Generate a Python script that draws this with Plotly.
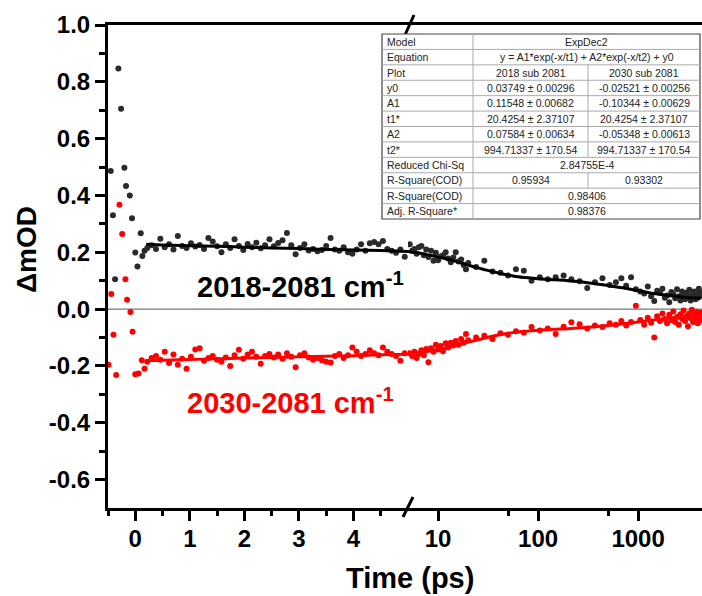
import math
import plotly.graph_objects as go

# ---------------- data ----------------
# early (coherent artefact) points, linear time axis (ps)
black_t_early = [-0.45, -0.41, -0.37, -0.31, -0.26, -0.20, -0.17, -0.10, -0.06, 0.00, 0.04, 0.10, 0.13, 0.17]
black_y_early = [0.486, 0.330, 0.105, 0.847, 0.705, 0.498, 0.433, 0.400, 0.320, 0.199, 0.150, 0.267, 0.187, 0.205]
red_t_early = [-0.49, -0.44, -0.40, -0.35, -0.29, -0.24, -0.18, -0.15, -0.09, -0.05, 0.00, 0.06, 0.12, 0.17]
red_y_early = [-0.196, 0.053, -0.090, -0.232, 0.367, 0.264, 0.105, 0.033, -0.010, -0.080, -0.229, -0.227, -0.180, -0.210]

# plateau points on the linear part (ps)
t_lin = [0.22, 0.30, 0.38, 0.46, 0.54, 0.62, 0.70, 0.78, 0.86, 0.94,
         1.02, 1.10, 1.18, 1.26, 1.34, 1.42, 1.50, 1.58, 1.66, 1.74,
         1.82, 1.90, 1.98, 2.06, 2.14, 2.22, 2.30, 2.38, 2.46, 2.54,
         2.62, 2.70, 2.78, 2.86, 2.94, 3.02, 3.10, 3.18, 3.26, 3.34,
         3.42, 3.50, 3.58, 3.66, 3.74, 3.82, 3.90, 3.98, 4.06, 4.14,
         4.22, 4.30, 4.38, 4.46, 4.54, 4.62, 4.70, 4.78, 4.86, 4.94]
black_lin = [0.215, 0.225, 0.212, 0.248, 0.218, 0.228, 0.210, 0.257, 0.222, 0.215,
             0.232, 0.220, 0.226, 0.212, 0.250, 0.238, 0.221, 0.200, 0.228, 0.215,
             0.246, 0.222, 0.208, 0.229, 0.218, 0.234, 0.214, 0.225, 0.246, 0.221,
             0.233, 0.242, 0.268, 0.225, 0.193, 0.215, 0.228, 0.206, 0.212, 0.204,
             0.208, 0.222, 0.250, 0.210, 0.205, 0.218, 0.200, 0.195, 0.210, 0.228,
             0.205, 0.232, 0.236, 0.228, 0.240, 0.212, 0.205, 0.198, 0.210, 0.184]
red_lin = [-0.185, -0.172, -0.165, -0.178, -0.150, -0.190, -0.160, -0.196, -0.175, -0.210,
           -0.168, -0.142, -0.138, -0.182, -0.172, -0.165, -0.178, -0.185, -0.170, -0.200,
           -0.162, -0.143, -0.175, -0.160, -0.150, -0.168, -0.192, -0.165, -0.158, -0.170,
           -0.160, -0.175, -0.155, -0.168, -0.205, -0.162, -0.155, -0.170, -0.178, -0.172,
           -0.180, -0.185, -0.188, -0.165, -0.158, -0.172, -0.162, -0.135, -0.150, -0.165,
           -0.158, -0.145, -0.155, -0.162, -0.135, -0.150, -0.158, -0.165, -0.182, -0.155]

# points on the log part (ps)
t_log = [5.2, 5.5, 5.8, 6.1, 6.4, 6.8, 7.2, 7.6, 8.0, 8.5, 9.0, 9.5, 10, 10.6, 11.2, 11.9, 12.6,
         13.4, 14.2, 15, 16, 17, 18, 19, 20,
         24, 29, 35, 42, 50, 60, 72, 86, 104, 125, 150,
         180, 215, 260, 310, 370, 440, 520, 600, 680, 760,
         850, 950, 1050, 1150, 1250, 1350, 1450, 1550, 1650, 1750, 1850, 1950, 2050, 2150,
         2250, 2350, 2450, 2550, 2650, 2750, 2850, 2950, 3050, 3150, 3250, 3350, 3450, 3550,
         3650, 3750, 3850, 3950, 4050, 4150, 4250]
black_log = [0.228, 0.205, 0.212, 0.195, 0.218, 0.222, 0.190, 0.210, 0.183, 0.205,
             0.170, 0.198, 0.172, 0.185, 0.190, 0.200, 0.178, 0.165, 0.182, 0.200,
             0.168, 0.175, 0.155, 0.140, 0.162,
             0.148, 0.170, 0.132, 0.128, 0.118, 0.140, 0.135, 0.100, 0.112, 0.105, 0.112,
             0.118, 0.105, 0.098, 0.074, 0.095, 0.109, 0.085, 0.095, 0.109, 0.082,
             0.112, 0.070, 0.062, 0.055, 0.080, 0.045, 0.029, 0.065, 0.058, 0.072,
             0.040, 0.048, 0.024, 0.060, 0.052, 0.038, 0.070, 0.045, 0.030, 0.062,
             0.050, 0.035, 0.058, 0.042, 0.068, 0.030, 0.050, 0.044, 0.062, 0.035,
             0.055, 0.040, 0.072, 0.048, 0.058]
red_log = [-0.155, -0.165, -0.150, -0.172, -0.158, -0.145, -0.162, -0.140, -0.187, -0.138,
           -0.150, -0.125, -0.142, -0.130, -0.148, -0.120, -0.135, -0.118, -0.128, -0.112,
           -0.125, -0.105, -0.118, -0.088, -0.110,
           -0.100, -0.094, -0.105, -0.085, -0.090, -0.078, -0.083, -0.063, -0.075, -0.068, -0.088,
           -0.062, -0.046, -0.053, -0.068, -0.058, -0.063, -0.050, -0.055, -0.042, -0.058,
           -0.045, 0.012, -0.038, -0.055, -0.030, -0.048, -0.100, -0.025, -0.042, -0.015,
           -0.035, -0.050, -0.020, -0.038, -0.008, -0.045, -0.028, -0.055, -0.018, -0.035,
           -0.005, -0.042, -0.025, -0.060, -0.015, -0.032, -0.002, -0.045, -0.020, -0.038,
           -0.010, -0.050, -0.025, -0.040, -0.012]

# fitted curves (ExpDec2)
fit_t_lin = [0.2, 0.5, 1, 1.5, 2, 2.5, 3, 3.5, 4, 4.5, 5]
black_fit_lin = [0.228, 0.226, 0.223, 0.221, 0.218, 0.215, 0.213, 0.210, 0.208, 0.206, 0.203]
red_fit_lin = [-0.181, -0.180, -0.177, -0.175, -0.172, -0.170, -0.168, -0.166, -0.164, -0.161, -0.159]
fit_t_log = [5, 6, 7, 8, 10, 12, 15, 20, 25, 30, 40, 50, 60, 80, 100, 150, 200, 300, 500, 700,
             1000, 1500, 2000, 3000, 4300]
black_fit_log = [0.203, 0.199, 0.195, 0.191, 0.183, 0.177, 0.168, 0.155, 0.145, 0.138, 0.127,
                 0.120, 0.115, 0.110, 0.107, 0.103, 0.100, 0.094, 0.083, 0.075, 0.065, 0.054,
                 0.048, 0.041, 0.039]
red_fit_log = [-0.159, -0.155, -0.152, -0.148, -0.142, -0.136, -0.128, -0.116, -0.108, -0.101,
               -0.091, -0.085, -0.081, -0.077, -0.074, -0.071, -0.069, -0.065, -0.058, -0.052,
               -0.045, -0.037, -0.032, -0.028, -0.026]

# tick labels
x_lin_ticks = [0, 1, 2, 3, 4]
x_lin_minor = [-0.5, 0.5, 1.5, 2.5, 3.5, 4.5]
x_log_ticks = [10, 100, 1000]
x_log_text = ["10", "100", "1000"]
x_log_minor = [50, 500]
y_tick_vals = [-0.6, -0.4, -0.2, 0.0, 0.2, 0.4, 0.6, 0.8, 1.0]
y_tick_text = ["-0.6", "-0.4", "-0.2", "0.0", "0.2", "0.4", "0.6", "0.8", "1.0"]
y_minor = [-0.5, -0.3, -0.1, 0.1, 0.3, 0.5, 0.7, 0.9]

# fit result table
table_labels = ["Model", "Equation", "Plot", "y0", "A1", "t1*", "A2", "t2*",
                "Reduced Chi-Sq", "R-Square(COD)", "R-Square(COD)", "Adj. R-Square*"]
table_col1 = ["ExpDec2", "y = A1*exp(-x/t1) + A2*exp(-x/t2) + y0", "2018 sub 2081",
              "0.03749 ± 0.00296", "0.11548 ± 0.00682", "20.4254 ± 2.37107",
              "0.07584 ± 0.00634", "994.71337 ± 170.54", "2.84755E-4", "0.95934",
              "0.98406", "0.98376"]
table_col2 = [None, None, "2030 sub 2081", "-0.02521 ± 0.00256", "-0.10344 ± 0.00629",
              "20.4254 ± 2.37107", "-0.05348 ± 0.00613", "994.71337 ± 170.54", None,
              "0.93302", None, None]

label_black = "2018-2081 cm<sup>-1</sup>"
label_red = "2030-2081 cm<sup>-1</sup>"

# ---------------- layout geometry ----------------
W, H = 702, 596
L, R, T, B = 108, 0, 25, 88
PW, PH = W - L - R, H - T - B
BREAK = 408


def px(X):
    return (X - L) / PW


def py(Y):
    return (H - B - Y) / PH


FONT = "Liberation Sans, Arial, sans-serif"
BLACK_DOT = "#2a2a2a"
RED = "#ff0000"

fig = go.Figure()

# scatter points
fig.add_trace(go.Scatter(x=black_t_early + t_lin, y=black_y_early + black_lin, mode="markers",
                         marker=dict(size=6, color=BLACK_DOT), xaxis="x", yaxis="y"))
fig.add_trace(go.Scatter(x=red_t_early + t_lin, y=red_y_early + red_lin, mode="markers",
                         marker=dict(size=6, color=RED), xaxis="x", yaxis="y"))
fig.add_trace(go.Scatter(x=t_log, y=black_log, mode="markers",
                         marker=dict(size=6, color=BLACK_DOT), xaxis="x2", yaxis="y"))
fig.add_trace(go.Scatter(x=t_log, y=red_log, mode="markers",
                         marker=dict(size=6, color=RED), xaxis="x2", yaxis="y"))
# fit lines
for xs, ys, col, ax in [(fit_t_lin, black_fit_lin, "black", "x"),
                        (fit_t_lin, red_fit_lin, RED, "x"),
                        (fit_t_log, black_fit_log, "black", "x2"),
                        (fit_t_log, red_fit_log, RED, "x2")]:
    fig.add_trace(go.Scatter(x=xs, y=ys, mode="lines", line=dict(color=col, width=3, shape="spline"),
                             xaxis=ax, yaxis="y"))

tickfont = dict(family=FONT, size=24, color="black", weight="bold")
common = dict(ticks="outside", ticklen=10, tickwidth=3, tickcolor="black", showline=True,
              linewidth=3, linecolor="black", showgrid=False, zeroline=False, tickfont=tickfont)
d = px(BREAK)

fig.update_layout(
    width=W, height=H, margin=dict(l=L, r=R, t=T, b=B, autoexpand=False),
    paper_bgcolor="white", plot_bgcolor="white", showlegend=False,
    xaxis=dict(domain=[0, d], range=[-0.5, 5.0], tickmode="array", tickvals=x_lin_ticks,
               mirror=True, anchor="y", ticklabelstandoff=-3, automargin=False,
               minor=dict(tickmode="array", tickvals=x_lin_minor, ticks="outside", ticklen=5,
                          tickwidth=3, tickcolor="black", showgrid=False), **common),
    xaxis2=dict(domain=[d, 1], type="log", range=[math.log10(5), math.log10(5) + 2.94],
                tickmode="array", tickvals=x_log_ticks, ticktext=x_log_text, mirror=True,
                anchor="y", ticklabelstandoff=-3, automargin=False,
                minor=dict(tickmode="array", tickvals=x_log_minor, ticks="outside", ticklen=5,
                           tickwidth=3, tickcolor="black", showgrid=False), **common),
    yaxis=dict(domain=[0, 1], range=[-0.7, 1.0], tickmode="array", tickvals=y_tick_vals,
               ticktext=y_tick_text, anchor="x", ticklabelstandoff=0, automargin=False,
               minor=dict(tickmode="array", tickvals=y_minor, ticks="outside", ticklen=6,
                          tickwidth=3, tickcolor="black", showgrid=False), **common),
)

shapes = []
annotations = []

# zero line
shapes.append(dict(type="line", xref="paper", yref="y", x0=0, x1=1, y0=0, y1=0,
                   line=dict(color="#555555", width=1), layer="below"))
# axis break marks
shapes.append(dict(type="line", xref="paper", yref="paper", x0=px(403), y0=py(517),
                   x1=px(413), y1=py(497), line=dict(color="black", width=3)))
shapes.append(dict(type="line", xref="paper", yref="paper", x0=px(405), y0=py(35),
                   x1=px(414), y1=py(15), line=dict(color="black", width=3)))

# table
TL, TR, TT, TB = 382, 700, 34, 219
C1, C2 = 473, 588
n = len(table_labels)
rh = (TB - TT) / n
shapes.append(dict(type="rect", xref="paper", yref="paper", x0=px(TL), x1=px(TR), y0=py(TT),
                   y1=py(TB), fillcolor="white", line=dict(color="#444444", width=1.2)))
for i in range(1, n):
    yy = TT + i * rh
    shapes.append(dict(type="line", xref="paper", yref="paper", x0=px(TL), x1=px(TR),
                       y0=py(yy), y1=py(yy), line=dict(color="#aaaaaa", width=1)))
shapes.append(dict(type="line", xref="paper", yref="paper", x0=px(C1), x1=px(C1),
                   y0=py(TT), y1=py(TB), line=dict(color="#aaaaaa", width=1)))
tfont = dict(family=FONT, size=10.5, color="#222222")
for i in range(n):
    yc = TT + (i + 0.5) * rh
    annotations.append(dict(text=table_labels[i], x=px(TL + 3), y=py(yc), xref="paper",
                            yref="paper", xanchor="left", yanchor="middle", showarrow=False,
                            font=tfont))
    if table_col2[i] is None:
        annotations.append(dict(text=table_col1[i], x=px((C1 + TR) / 2), y=py(yc), xref="paper",
                                yref="paper", xanchor="center", yanchor="middle",
                                showarrow=False, font=tfont))
    else:
        shapes.append(dict(type="line", xref="paper", yref="paper", x0=px(C2), x1=px(C2),
                           y0=py(TT + i * rh), y1=py(TT + (i + 1) * rh),
                           line=dict(color="#aaaaaa", width=1)))
        annotations.append(dict(text=table_col1[i], x=px((C1 + C2) / 2), y=py(yc), xref="paper",
                                yref="paper", xanchor="center", yanchor="middle",
                                showarrow=False, font=tfont))
        annotations.append(dict(text=table_col2[i], x=px((C2 + TR) / 2), y=py(yc), xref="paper",
                                yref="paper", xanchor="center", yanchor="middle",
                                showarrow=False, font=tfont))

# axis titles and series labels
annotations.append(dict(text="ΔmOD", x=px(26), y=py(250), xref="paper", yref="paper",
                        textangle=-90, showarrow=False, xanchor="center", yanchor="middle",
                        font=dict(family=FONT, size=28, color="black", weight="bold")))
annotations.append(dict(text="Time (ps)", x=px(410), y=py(578), xref="paper", yref="paper",
                        showarrow=False, xanchor="center", yanchor="middle",
                        font=dict(family=FONT, size=29, color="black", weight="bold")))
annotations.append(dict(text=label_black, x=px(195), y=py(285), xref="paper", yref="paper",
                        showarrow=False, xanchor="left", yanchor="middle",
                        font=dict(family=FONT, size=29, color="black", weight="bold")))
annotations.append(dict(text=label_red, x=px(185), y=py(401), xref="paper", yref="paper",
                        showarrow=False, xanchor="left", yanchor="middle",
                        font=dict(family=FONT, size=29, color=RED, weight="bold")))

fig.update_layout(shapes=shapes, annotations=annotations)
fig.write_html("out.html", config={"displayModeBar": False},
               post_script="document.body.style.margin='0px';")
